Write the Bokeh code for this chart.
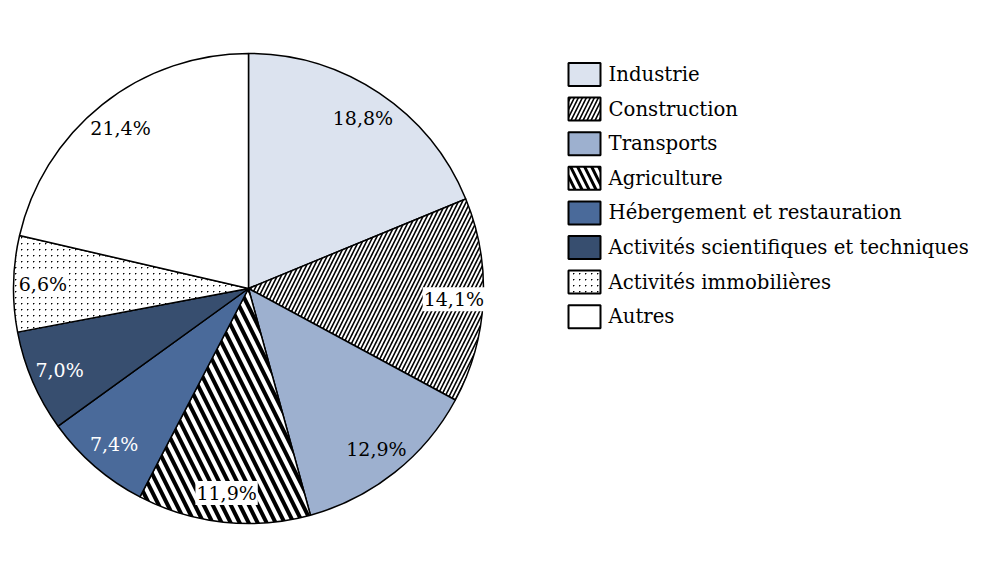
import math, zlib, struct, base64
from bokeh.plotting import figure
from bokeh.models import ColumnDataSource, Range1d, ImageURLTexture
from bokeh.core.properties import value
from bokeh.embed import file_html
from bokeh.resources import INLINE

categories = ["Industrie", "Construction", "Transports", "Agriculture",
              "Hébergement et restauration", "Activités scientifiques et techniques",
              "Activités immobilières", "Autres"]
shares = [18.8, 14.1, 12.9, 11.9, 7.4, 7.0, 6.6, 21.4]
labels = ["18,8%", "14,1%", "12,9%", "11,9%", "7,4%", "7,0%", "6,6%", "21,4%"]

fills = ["#dce3ef", "white", "#9db0cf", "white", "#4a6a9a", "#374e6f", "white", "white"]
hatches = [" ", "/", " ", "\\", " ", " ", "smalldots", " "]
hatch_scales = [4, 8, 4, 18, 4, 4, 6, 4]
hatch_weights = [1, 1.6, 1, 4, 1, 1, 1, 1]
label_colors = ["black", "black", "black", "black", "white", "white", "black", "black"]
label_bg_alpha = [0, 1, 0, 1, 0, 0, 1, 0]

W, H = 968, 559
FONT = "DejaVu Serif"
cx, cy, R = 248, H - 288, 235


def dot_tile_png(n=6):
    px = [[(0, 0, 0, 0)] * n for _ in range(n)]
    c = n // 2
    px[c][c] = (0, 0, 0, 255)
    px[c][c + 1] = (0, 0, 0, 110)
    px[c + 1][c] = (0, 0, 0, 110)
    raw = b"".join(b"\x00" + b"".join(bytes(p) for p in row) for row in px)

    def chunk(t, d):
        return struct.pack(">I", len(d)) + t + d + struct.pack(">I", zlib.crc32(t + d) & 0xffffffff)
    data = (b"\x89PNG\r\n\x1a\n" + chunk(b"IHDR", struct.pack(">IIBBBBB", n, n, 8, 6, 0, 0, 0))
            + chunk(b"IDAT", zlib.compress(raw)) + chunk(b"IEND", b""))
    return "data:image/png;base64," + base64.b64encode(data).decode()


dots = ImageURLTexture(url=dot_tile_png(6))

total = sum(shares)
starts, ends, lx, ly = [], [], [], []
cum = 0.0
for s in shares:
    a0 = math.pi / 2 - 2 * math.pi * cum / total
    cum += s
    a1 = math.pi / 2 - 2 * math.pi * cum / total
    starts.append(a0)
    ends.append(a1)
    mid = (a0 + a1) / 2
    lx.append(cx + 0.875 * R * math.cos(mid))
    ly.append(cy + 0.875 * R * math.sin(mid))

src = ColumnDataSource(dict(cat=categories, start=starts, end=ends, fill=fills,
                            hatch=hatches, hs=hatch_scales, hw=hatch_weights,
                            lab=labels, lx=lx, ly=ly, lc=label_colors, bga=label_bg_alpha))

p = figure(width=W, height=H, output_backend="svg", toolbar_location=None,
           x_range=Range1d(0, W), y_range=Range1d(0, H), min_border=0)
p.axis.visible = False
p.grid.visible = False
p.outline_line_color = None

p.wedge(x=cx, y=cy, radius=R, radius_units="screen", start_angle="start", end_angle="end",
        direction="clock", fill_color="fill", line_color="black", line_width=1.5,
        hatch_pattern="hatch", hatch_scale="hs", hatch_weight="hw", hatch_color="black",
        hatch_extra={"smalldots": dots}, source=src)

p.text(x="lx", y="ly", text="lab", text_color="lc", text_font=value(FONT),
       text_font_size="19px", text_align="center", text_baseline="middle",
       background_fill_color="white", background_fill_alpha="bga", padding=1,
       source=src)

# legend
n = len(categories)
leg_y = [H - (74 + i * 34.6) for i in range(n)]
leg_src = ColumnDataSource(dict(cat=categories, y=leg_y, fill=fills, hatch=hatches,
                                hs=[min(h, 14) for h in hatch_scales],
                                hw=[min(w, 3) for w in hatch_weights]))
p.rect(x=584, y="y", width=32, height=23, width_units="screen", height_units="screen",
       fill_color="fill", line_color="black", line_width=2,
       hatch_pattern="hatch", hatch_scale="hs", hatch_weight="hw", hatch_color="black",
       hatch_extra={"smalldots": dots}, source=leg_src)
p.text(x=608, y="y", text="cat", text_font=value(FONT), text_font_size="19.7px",
       text_align="left", text_baseline="middle", text_color="black", source=leg_src)

open("out.html", "w").write(file_html(p, INLINE))
